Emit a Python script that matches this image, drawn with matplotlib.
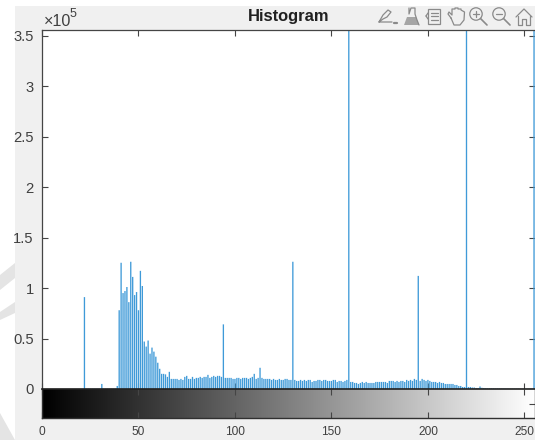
import numpy as np
import matplotlib
matplotlib.use("Agg")
import matplotlib.pyplot as plt
from matplotlib.patches import Rectangle, Polygon, Circle

plt.rcParams['font.family'] = ['Liberation Sans', 'DejaVu Sans']

TITLE = "Histogram"
x_ticks = [0, 50, 100, 150, 200, 250]
y_ticks = [0, 0.5, 1, 1.5, 2, 2.5, 3, 3.5]
y_tick_labels = ["0", "0.5", "1", "1.5", "2", "2.5", "3", "3.5"]

# histogram counts in units of 1e5, bins 0-255
counts_0_39 = [0]*22 + [0.91] + [0.002]*8 + [0.05] + [0.002]*7 + [0.03]
counts_40_66 = [0.78, 1.25, 0.95, 0.97, 1.01, 0.86, 1.26, 1.11, 0.93, 0.96, 0.78, 1.17, 1.02,
                0.47, 0.42, 0.48, 0.35, 0.41, 0.37, 0.32, 0.26, 0.20, 0.15, 0.15, 0.145, 0.12, 0.17]
counts_67_129 = [0.10, 0.10, 0.10, 0.10, 0.09, 0.10, 0.09, 0.12, 0.13, 0.10, 0.10, 0.12, 0.10, 0.11,
                 0.11, 0.12, 0.11, 0.12, 0.12, 0.14, 0.11, 0.12, 0.13, 0.12, 0.13, 0.13, 0.12, 0.64,
                 0.11, 0.11, 0.11, 0.11, 0.10, 0.10, 0.11, 0.11, 0.10, 0.11, 0.11, 0.11, 0.10, 0.11,
                 0.12, 0.15, 0.10, 0.11, 0.21, 0.11, 0.10, 0.10, 0.10, 0.10, 0.09, 0.10, 0.09, 0.09,
                 0.10, 0.09, 0.09, 0.10, 0.10, 0.09, 0.09]
counts_130_159 = [1.26, 0.09, 0.08, 0.08, 0.09, 0.08, 0.09, 0.08, 0.09, 0.09, 0.07, 0.08, 0.08, 0.09,
                  0.09, 0.08, 0.09, 0.09, 0.08, 0.08, 0.08, 0.09, 0.09, 0.07, 0.08, 0.08, 0.07, 0.08,
                  0.09, 4.2]
counts_160_219 = [0.07, 0.07, 0.06, 0.06, 0.05, 0.06, 0.07, 0.06, 0.07, 0.06, 0.06, 0.06, 0.06, 0.07,
                  0.07, 0.07, 0.07, 0.07, 0.07, 0.06, 0.08, 0.08, 0.08, 0.07, 0.08, 0.07, 0.08, 0.08,
                  0.07, 0.09, 0.08, 0.09, 0.08, 0.10, 0.09, 1.12, 0.08, 0.10, 0.09, 0.08, 0.09, 0.08,
                  0.07, 0.07, 0.07, 0.06, 0.07, 0.06, 0.06, 0.05, 0.05, 0.05, 0.05, 0.05, 0.04, 0.04,
                  0.03, 0.03, 0.02, 0.02]
counts_220_255 = [5.0, 0.02, 0.02, 0.015, 0.015, 0.01, 0.01, 0.025, 0.012, 0.01, 0.008, 0.006, 0.006,
                  0.005, 0.005, 0.004, 0.004, 0.004, 0.003, 0.003, 0.003, 0.002, 0.002, 0.002, 0.002,
                  0.002, 0.002, 0.002, 0.002, 0.001, 0.001, 0.001, 0.001, 0.001, 0.001, 4.6]
counts = counts_0_39 + counts_40_66 + counts_67_129 + counts_130_159 + counts_160_219 + counts_220_255
bins = np.arange(len(counts))

W, H = 535, 440
fig = plt.figure(figsize=(W/100, H/100), dpi=100, facecolor='white')

def rect(l, t, r, b):
    return [l/W, 1 - b/H, (r-l)/W, (b-t)/H]

# page layer in pixel coordinates
bg = fig.add_axes([0, 0, 1, 1], zorder=0)
bg.set_xlim(0, W); bg.set_ylim(H, 0); bg.axis('off')
bg.add_patch(Rectangle((15, 6), W-15, 434, fc='#f0f0f0', ec='none'))
wm = '#e4e4e4'
bg.add_patch(Polygon([(0, 275), (15, 263), (15, 278), (0, 290)], fc=wm, ec='none'))
bg.add_patch(Polygon([(0, 312), (15, 302), (15, 313), (0, 320)], fc=wm, ec='none'))
bg.add_patch(Polygon([(0, 413), (15, 440), (0, 440)], fc=wm, ec='none'))

ink = '#454545'
XMAX = 255.5
ax = fig.add_axes(rect(42, 30, 535, 389), zorder=2, facecolor='white')
lines = ax.vlines(bins, 0, np.array(counts), color='#3f9ad8', lw=0.95)
lines.set_snap(False)
ax.set_xlim(0, XMAX)
ax.set_ylim(0, 3.555)
ax.set_xticks(x_ticks)
ax.set_xticklabels([])
ax.set_yticks(y_ticks)
ax.set_yticklabels(y_tick_labels, fontsize=10.6, color='#404040')
ax.tick_params(direction='in', length=4, width=0.8, color=ink, top=True, right=True, pad=6, bottom=True)
for s in ax.spines.values():
    s.set_color(ink); s.set_linewidth(0.9)
ax.spines['right'].set_visible(False)

cb = fig.add_axes(rect(42, 389, 535, 418), zorder=3)
gradient = np.arange(256).reshape(1, -1)
cb.imshow(gradient, cmap='gray', aspect='auto', extent=[0, XMAX, 0, 1])
cb.set_xticks(x_ticks)
cb.set_xticklabels([str(v) for v in x_ticks], fontsize=8.6, color='#404040')
cb.set_yticks([0.5])
cb.set_yticklabels([])
cb.tick_params(direction='in', length=4, width=0.8, color=ink, top=True, right=True, left=False, pad=6)
for s in cb.spines.values():
    s.set_color('#303030'); s.set_linewidth(1.0)
cb.spines['top'].set_color('#222222'); cb.spines['top'].set_linewidth(1.2)

# title and exponent
fg = fig.add_axes([0, 0, 1, 1], zorder=5, facecolor='none')
fg.set_xlim(0, W); fg.set_ylim(H, 0); fg.axis('off')
fg.text(289, 16, TITLE, fontsize=11.9, fontweight='bold', ha='center', va='center', color='#202020')
fg.text(43.5, 21, "\u00d710", fontsize=11.6, ha='left', va='center', color='#404040')
fg.text(69.5, 14, "5", fontsize=9, ha='left', va='center', color='#404040')

# toolbar icons
ic = '#8a8a8a'
lw = 0.9
def pl(xs, ys, **k):
    fg.plot(xs, ys, color=k.pop('color', ic), lw=k.pop('lw', lw), solid_capstyle='round', **k)
# pen
pl([379, 383, 388, 391, 387, 383, 379, 392], [22, 15, 10, 12, 17, 19, 22, 22])
pl([394, 397], [23, 23], lw=1.6)
# brush
pl([409, 409, 411, 415, 415, 417, 419], [8, 14, 8, 8, 14, 20, 25])
fg.add_patch(Polygon([(404, 25), (407, 17), (416, 17), (419, 25)], fc='#a5a5a5', ec='none'))
# legend box
fg.add_patch(Rectangle((428, 9), 12, 15, fc='none', ec=ic, lw=lw))
pl([426, 428], [16, 13]); pl([426, 428], [16, 19])
pl([431, 438], [13, 13]); pl([431, 438], [16.5, 16.5]); pl([431, 438], [20, 20])
# hand
pl([451, 448, 449, 452, 452, 455, 455, 458, 458, 461, 461, 464.5, 464, 460, 454, 451],
   [18, 14, 12, 15, 9, 9, 8, 8, 9, 9, 10, 12, 20, 25, 25, 18])
# zoom in / out
for cx, sym in ((476, '+'), (499, '-')):
    fg.add_patch(Circle((cx, 14), 6.2, fc='none', ec=ic, lw=lw))
    pl([cx+4.5, cx+11], [18.5, 25], lw=1.2)
    pl([cx-3, cx+3], [14, 14])
    if sym == '+':
        pl([cx, cx], [11, 17])
# home
pl([516, 524, 532], [17, 9, 17])
pl([518, 518, 522, 522, 526, 526, 530, 530], [16, 25, 25, 19, 19, 25, 25, 16])

fig.savefig('out.png', dpi=100, facecolor='white')
